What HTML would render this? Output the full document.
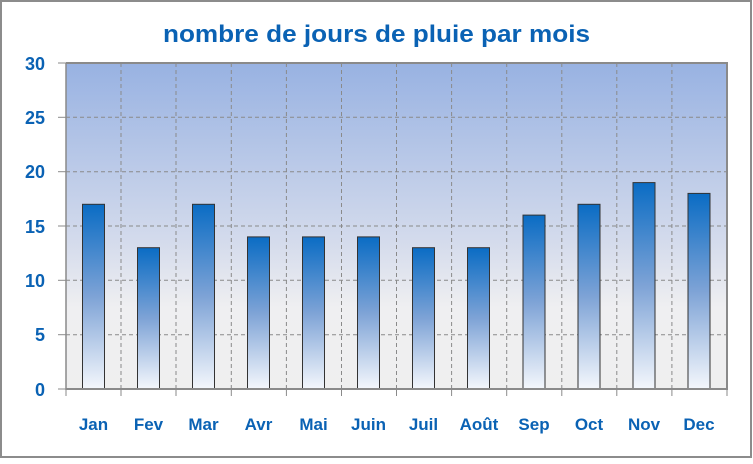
<!DOCTYPE html>
<html><head><style>body{margin:0;background:#fff}</style></head><body>
<svg width="753" height="459" xmlns="http://www.w3.org/2000/svg" font-family="Liberation Sans, sans-serif">
<defs>
<linearGradient id="bg" x1="0" y1="0" x2="0" y2="1"><stop offset="0" stop-color="#98b2e2"/><stop offset="0.55" stop-color="#d4dbec"/><stop offset="0.75" stop-color="#efeff1"/><stop offset="1" stop-color="#efefef"/></linearGradient>
<linearGradient id="bar" x1="0" y1="0" x2="0" y2="1"><stop offset="0" stop-color="#0a6cc4"/><stop offset="0.5" stop-color="#7ea3d6"/><stop offset="1" stop-color="#f4f7fc"/></linearGradient>
</defs>
<rect x="1" y="1" width="750" height="456" fill="#fff" stroke="#8c8c8c" stroke-width="2"/>
<text x="163" y="42" textLength="427" lengthAdjust="spacingAndGlyphs" font-size="24" font-weight="bold" fill="#0a62b4">nombre de jours de pluie par mois</text>
<rect x="66" y="63" width="661" height="326" fill="url(#bg)"/>
<g stroke="#8a8a8a" stroke-dasharray="4,3" stroke-width="1">
<line x1="66" y1="117.3" x2="727" y2="117.3"/><line x1="66" y1="171.7" x2="727" y2="171.7"/><line x1="66" y1="226" x2="727" y2="226"/><line x1="66" y1="280.3" x2="727" y2="280.3"/><line x1="66" y1="334.7" x2="727" y2="334.7"/>
<line x1="121" y1="63" x2="121" y2="389"/><line x1="176" y1="63" x2="176" y2="389"/><line x1="231.3" y1="63" x2="231.3" y2="389"/><line x1="286.4" y1="63" x2="286.4" y2="389"/><line x1="341.5" y1="63" x2="341.5" y2="389"/><line x1="396.5" y1="63" x2="396.5" y2="389"/><line x1="451.6" y1="63" x2="451.6" y2="389"/><line x1="506.7" y1="63" x2="506.7" y2="389"/><line x1="561.8" y1="63" x2="561.8" y2="389"/><line x1="616.8" y1="63" x2="616.8" y2="389"/><line x1="671.9" y1="63" x2="671.9" y2="389"/>
</g>
<g fill="url(#bar)" stroke="#333" stroke-width="1">
<rect x="82.5" y="204.3" width="22" height="184.7"/>
<rect x="137.5" y="247.7" width="22" height="141.3"/>
<rect x="192.5" y="204.3" width="22" height="184.7"/>
<rect x="247.5" y="236.9" width="22" height="152.1"/>
<rect x="302.5" y="236.9" width="22" height="152.1"/>
<rect x="357.5" y="236.9" width="22" height="152.1"/>
<rect x="412.5" y="247.7" width="22" height="141.3"/>
<rect x="467.5" y="247.7" width="22" height="141.3"/>
<rect x="523" y="215.1" width="22" height="173.9"/>
<rect x="578" y="204.3" width="22" height="184.7"/>
<rect x="633" y="182.6" width="22" height="206.4"/>
<rect x="688" y="193.4" width="22" height="195.6"/>
</g>
<polyline points="66,63 727,63 727,389 66,389" fill="none" stroke="#8a8a8a" stroke-width="2"/>
<line x1="66" y1="63" x2="66" y2="390" stroke="#8a8a8a" stroke-width="1.5"/>
<g stroke="#8a8a8a" stroke-width="1">
<line x1="58" y1="63" x2="66" y2="63"/><line x1="58" y1="117.3" x2="66" y2="117.3"/><line x1="58" y1="171.7" x2="66" y2="171.7"/><line x1="58" y1="226" x2="66" y2="226"/><line x1="58" y1="280.3" x2="66" y2="280.3"/><line x1="58" y1="334.7" x2="66" y2="334.7"/><line x1="58" y1="389" x2="66" y2="389"/>
<line x1="66" y1="389" x2="66" y2="396"/><line x1="121" y1="389" x2="121" y2="396"/><line x1="176" y1="389" x2="176" y2="396"/><line x1="231.3" y1="389" x2="231.3" y2="396"/><line x1="286.4" y1="389" x2="286.4" y2="396"/><line x1="341.5" y1="389" x2="341.5" y2="396"/><line x1="396.5" y1="389" x2="396.5" y2="396"/><line x1="451.6" y1="389" x2="451.6" y2="396"/><line x1="506.7" y1="389" x2="506.7" y2="396"/><line x1="561.8" y1="389" x2="561.8" y2="396"/><line x1="616.8" y1="389" x2="616.8" y2="396"/><line x1="671.9" y1="389" x2="671.9" y2="396"/><line x1="727" y1="389" x2="727" y2="396"/>
</g>
<g font-size="18" font-weight="bold" fill="#0a62b4" text-anchor="end">
<text x="45" y="70">30</text><text x="45" y="124">25</text><text x="45" y="178">20</text><text x="45" y="233">15</text><text x="45" y="287">10</text><text x="45" y="341">5</text><text x="45" y="396">0</text>
</g>
<g font-size="17" font-weight="bold" fill="#0a62b4" text-anchor="middle">
<text x="93.5" y="430">Jan</text><text x="148.5" y="430">Fev</text><text x="203.5" y="430">Mar</text><text x="258.5" y="430">Avr</text><text x="313.5" y="430">Mai</text><text x="368.5" y="430">Juin</text><text x="423.5" y="430">Juil</text><text x="479" y="430">Août</text><text x="534" y="430">Sep</text><text x="589" y="430">Oct</text><text x="644" y="430">Nov</text><text x="699" y="430">Dec</text>
</g>
</svg>
</body></html>
